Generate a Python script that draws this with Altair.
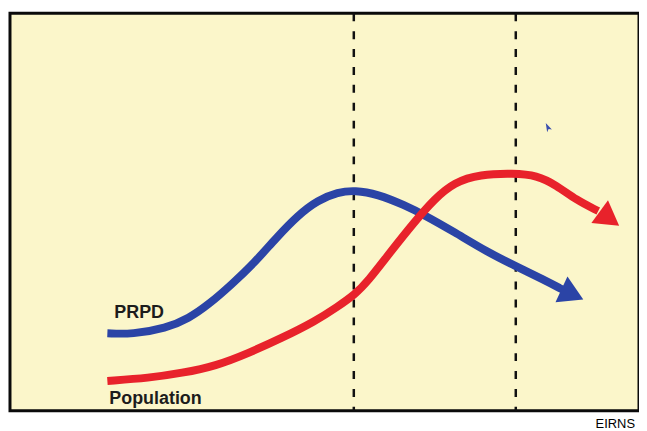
import altair as alt
import pandas as pd

# Conceptual chart: positions in arbitrary units (x: 0-633 left->right, y: 0-400 bottom->top)
prpd_x = [98, 123, 157, 180, 200, 223, 247, 267, 290, 310, 330, 347, 370, 397, 417, 447, 480, 510, 537, 556]
prpd_y = [78, 77, 83, 93, 107, 127, 150, 173, 197, 212, 220, 222, 218, 207, 197, 180, 160, 145, 132, 122]

pop_x = [98, 140, 173, 207, 240, 273, 307, 330, 347, 360, 383, 407, 427, 447, 473, 507, 530, 550, 570, 592]
pop_y = [30, 33, 38, 45, 58, 73, 90, 105, 117, 130, 160, 190, 213, 230, 238, 239, 237, 227, 212, 201]

# arrow heads: [x, y, angle]
arrow_series = ["PRPD", "Population"]
arrow_x = [564, 601.5]
arrow_y = [118, 194.6]
arrow_angle = [25, 36]

period_x = [346, 509]          # dashed period markers

label_text = ["PRPD", "Population"]
label_x = [105, 100]
label_y = [93, 7]

cursor_x = [542]
cursor_y = [285]

colors = {"PRPD": "#2B44A6", "Population": "#E8222B"}

lines = pd.DataFrame(
    [{"series": "PRPD", "x": a, "y": b, "o": i} for i, (a, b) in enumerate(zip(prpd_x, prpd_y))]
    + [{"series": "Population", "x": a, "y": b, "o": i} for i, (a, b) in enumerate(zip(pop_x, pop_y))]
)
arrows = pd.DataFrame({"series": arrow_series, "x": arrow_x, "y": arrow_y, "angle": arrow_angle})
periods = pd.DataFrame({"x": period_x})
labels = pd.DataFrame({"text": label_text, "x": label_x, "y": label_y})
cursor = pd.DataFrame({"x": cursor_x, "y": cursor_y})

xs = alt.Scale(domain=[0, 633], nice=False, zero=False)
ys = alt.Scale(domain=[0, 400], nice=False, zero=False)
cscale = alt.Scale(domain=list(colors.keys()), range=list(colors.values()))

rules = alt.Chart(periods).mark_rule(
    color="#111111", strokeWidth=2.5, strokeDash=[8, 10]
).encode(x=alt.X("x:Q", scale=xs, axis=None))

curves = alt.Chart(lines).mark_line(
    strokeWidth=8, interpolate="basis", strokeCap="butt"
).encode(
    x=alt.X("x:Q", scale=xs, axis=None),
    y=alt.Y("y:Q", scale=ys, axis=None),
    color=alt.Color("series:N", scale=cscale, legend=None),
    detail="series:N",
    order="o:Q",
)

heads = alt.Chart(arrows).mark_point(
    shape="M-0.7,-1L1,0L-0.7,1Z", filled=True, opacity=1, size=810
).encode(
    x=alt.X("x:Q", scale=xs, axis=None),
    y=alt.Y("y:Q", scale=ys, axis=None),
    color=alt.Color("series:N", scale=cscale, legend=None),
    angle=alt.Angle("angle:Q", scale=None),
)

texts = alt.Chart(labels).mark_text(
    align="left", baseline="alphabetic", fontSize=18, fontWeight="bold",
    font="Liberation Sans", color="#1c1c1c"
).encode(
    x=alt.X("x:Q", scale=xs, axis=None),
    y=alt.Y("y:Q", scale=ys, axis=None),
    text="text:N",
)

cur = alt.Chart(cursor).mark_point(
    shape="M-0.6,-1L0.7,0.4L0,0.3L-0.3,1Z", filled=True, opacity=1, size=90, color="#3A4FAE"
).encode(
    x=alt.X("x:Q", scale=xs, axis=None),
    y=alt.Y("y:Q", scale=ys, axis=None),
)

chart = alt.layer(rules, curves, heads, texts, cur).properties(
    width=633,
    height=400,
    background="white",
    padding={"left": 2, "top": 2, "right": 0, "bottom": 0},
    title=alt.TitleParams(
        "EIRNS", orient="bottom", anchor="end", fontSize=13, fontWeight="normal",
        font="Liberation Sans", color="#000000", offset=6, dx=-4
    ),
).configure_view(
    stroke="#0a0a0a", strokeWidth=3, fill="#FBF6CA"
)

chart.save("out.html", embed_options={"renderer": "svg", "actions": False})
